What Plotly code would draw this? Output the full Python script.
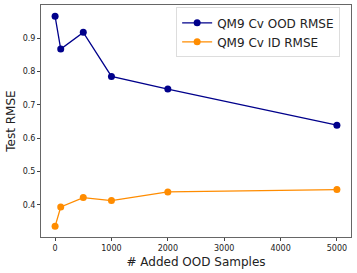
import plotly.graph_objects as go

x_samples = [0, 100, 500, 1000, 2000, 5000]
ood_rmse = [0.965, 0.867, 0.917, 0.785, 0.747, 0.639]
id_rmse = [0.336, 0.394, 0.422, 0.413, 0.439, 0.446]
x_ticks = [0, 1000, 2000, 3000, 4000, 5000]
y_ticks = [0.4, 0.5, 0.6, 0.7, 0.8, 0.9]

fig = go.Figure()
fig.add_trace(go.Scatter(x=x_samples, y=ood_rmse, mode="lines+markers",
                         name="QM9 Cv OOD RMSE",
                         line=dict(color="#00008B", width=1.3),
                         marker=dict(color="#00008B", size=7)))
fig.add_trace(go.Scatter(x=x_samples, y=id_rmse, mode="lines+markers",
                         name="QM9 Cv ID RMSE",
                         line=dict(color="#FF8C00", width=1.3),
                         marker=dict(color="#FF8C00", size=7)))

axis_common = dict(showline=True, mirror=True, linecolor="#666", linewidth=1,
                   ticks="outside", ticklen=3, tickcolor="#444", showgrid=False,
                   zeroline=False, automargin=False,
                   tickfont=dict(family="DejaVu Sans", size=8, color="#222"))

fig.update_layout(
    width=357, height=273,
    margin=dict(l=41, r=6, t=5, b=36),
    plot_bgcolor="white", paper_bgcolor="white",
    font=dict(family="DejaVu Sans", color="#222"),
    xaxis=dict(range=[-250, 5250], tickvals=x_ticks,
               title=dict(text="# Added OOD Samples", font=dict(size=12), standoff=6),
               **axis_common),
    yaxis=dict(range=[0.304, 0.999], tickvals=y_ticks, tickformat=".1f",
               title=dict(text="Test RMSE", font=dict(size=12), standoff=4),
               **axis_common),
    legend=dict(x=0.965, y=0.99, xanchor="right", yanchor="top",
                bgcolor="rgba(255,255,255,0.8)", bordercolor="#ddd", borderwidth=1,
                font=dict(size=12, family="DejaVu Sans"),
                itemwidth=30, tracegroupgap=0),
    showlegend=True,
)

fig.write_html("out.html", config={"displayModeBar": False},
               post_script="document.body.style.margin='0';document.body.style.overflow='hidden';")
